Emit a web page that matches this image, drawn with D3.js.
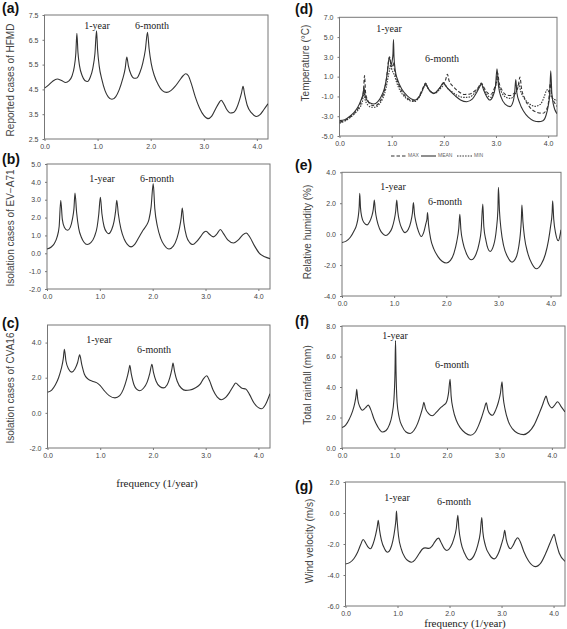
<!DOCTYPE html>
<html><head><meta charset="utf-8">
<script src="https://cdn.jsdelivr.net/npm/d3@7/dist/d3.min.js"></script>
<style>body{margin:0;background:#fff}svg{display:block}</style>
</head><body>
<svg id="c" width="567" height="629"></svg>
<script>
// ---- data: [frequency (1/year), value] ----
const hfmd = [[0,4.55],[0.08,4.68],[0.16,4.84],[0.24,4.92],[0.32,4.86],[0.4,4.78],[0.46,4.84],[0.52,5.05],[0.56,5.4],[0.59,5.95],[0.61,6.76],[0.63,6.0],[0.66,5.45],[0.71,5.05],[0.76,4.86],[0.81,4.82],[0.86,4.98],[0.91,5.35],[0.95,5.95],[0.98,6.86],[1.0,6.1],[1.03,5.45],[1.08,4.9],[1.14,4.45],[1.2,4.2],[1.27,4.1],[1.34,4.2],[1.41,4.5],[1.47,4.9],[1.52,5.35],[1.55,5.8],[1.58,5.45],[1.63,5.1],[1.69,4.95],[1.74,4.96],[1.8,5.2],[1.85,5.55],[1.9,6.1],[1.94,6.8],[1.97,6.15],[2.01,5.55],[2.07,5.05],[2.14,4.7],[2.22,4.45],[2.3,4.38],[2.38,4.45],[2.46,4.62],[2.54,4.85],[2.61,5.05],[2.66,5.13],[2.71,5.05],[2.77,4.7],[2.84,4.2],[2.92,3.75],[3.0,3.45],[3.08,3.32],[3.15,3.42],[3.22,3.7],[3.29,3.97],[3.33,4.06],[3.37,3.95],[3.43,3.7],[3.5,3.55],[3.56,3.57],[3.62,3.75],[3.67,4.05],[3.71,4.35],[3.74,4.62],[3.77,4.3],[3.82,3.85],[3.9,3.55],[3.99,3.41],[4.06,3.48],[4.13,3.68],[4.21,3.92]];
const eva71 = [[0,0.24],[0.08,0.35],[0.14,0.55],[0.19,0.9],[0.23,1.5],[0.26,2.97],[0.29,1.9],[0.33,1.45],[0.39,1.29],[0.44,1.45],[0.48,1.9],[0.51,2.5],[0.53,3.38],[0.56,2.3],[0.6,1.4],[0.65,0.9],[0.7,0.62],[0.76,0.49],[0.83,0.6],[0.9,0.95],[0.95,1.5],[0.98,2.2],[1.01,3.14],[1.04,2.2],[1.08,1.5],[1.13,1.18],[1.17,1.1],[1.22,1.3],[1.27,1.8],[1.3,2.4],[1.32,2.97],[1.35,2.2],[1.4,1.35],[1.46,0.8],[1.52,0.5],[1.59,0.36],[1.66,0.5],[1.74,0.9],[1.82,1.3],[1.88,1.55],[1.93,1.9],[1.97,2.6],[2.01,3.9],[2.04,2.5],[2.09,1.5],[2.15,0.85],[2.22,0.45],[2.31,0.24],[2.39,0.4],[2.46,0.85],[2.51,1.45],[2.54,2.0],[2.56,2.54],[2.59,1.7],[2.64,0.95],[2.7,0.6],[2.76,0.49],[2.83,0.65],[2.91,0.95],[2.97,1.18],[3.01,1.23],[3.08,1.05],[3.15,0.92],[3.22,1.1],[3.28,1.33],[3.34,1.1],[3.42,0.75],[3.53,0.58],[3.62,0.75],[3.7,1.02],[3.77,1.14],[3.84,0.9],[3.93,0.4],[4.02,0.0],[4.12,-0.2],[4.22,-0.3]];
const cva16 = [[0,1.17],[0.08,1.3],[0.15,1.6],[0.21,2.0],[0.26,2.5],[0.3,3.1],[0.32,3.62],[0.35,2.95],[0.4,2.5],[0.46,2.32],[0.52,2.5],[0.57,2.85],[0.61,3.3],[0.65,2.75],[0.7,2.2],[0.77,1.92],[0.85,1.8],[0.93,1.72],[1.0,1.55],[1.08,1.25],[1.17,0.98],[1.28,0.85],[1.37,0.98],[1.44,1.35],[1.5,1.9],[1.54,2.4],[1.56,2.7],[1.59,2.2],[1.64,1.6],[1.69,1.35],[1.75,1.26],[1.82,1.4],[1.89,1.75],[1.94,2.25],[1.98,2.77],[2.01,2.3],[2.06,1.8],[2.13,1.5],[2.2,1.42],[2.27,1.6],[2.32,2.0],[2.36,2.5],[2.38,2.83],[2.41,2.35],[2.46,1.8],[2.54,1.4],[2.62,1.28],[2.7,1.3],[2.8,1.42],[2.9,1.65],[2.96,1.95],[3.02,2.11],[3.07,1.85],[3.14,1.3],[3.22,0.9],[3.3,0.75],[3.38,0.88],[3.45,1.15],[3.52,1.5],[3.57,1.7],[3.63,1.55],[3.69,1.4],[3.76,1.36],[3.83,1.05],[3.92,0.55],[4.0,0.3],[4.06,0.23],[4.13,0.45],[4.22,1.09]];
const tempMax = [[0,-3.6],[0.1,-3.45],[0.2,-3.1],[0.3,-2.6],[0.38,-2.0],[0.43,-1.2],[0.46,-0.4],[0.48,1.1],[0.5,-0.6],[0.55,-1.5],[0.62,-1.9],[0.68,-1.95],[0.75,-1.7],[0.82,-1.05],[0.87,-0.2],[0.91,1.2],[0.94,2.6],[0.96,3.0],[0.98,2.4],[1.0,2.0],[1.03,2.4],[1.05,1.8],[1.09,0.9],[1.15,0.0],[1.25,-0.9],[1.35,-1.35],[1.42,-1.45],[1.5,-1.2],[1.57,-0.5],[1.62,0.1],[1.65,0.35],[1.69,-0.1],[1.76,-0.55],[1.83,-0.65],[1.9,-0.3],[1.97,0.2],[2.03,0.6],[2.07,1.25],[2.1,0.6],[2.18,0.0],[2.28,-0.5],[2.4,-0.8],[2.5,-0.75],[2.58,-0.5],[2.66,-0.1],[2.72,0.35],[2.77,-0.1],[2.83,-0.6],[2.9,-0.8],[2.96,-0.3],[3.01,0.6],[3.03,1.4],[3.06,0.4],[3.12,-0.4],[3.2,-0.85],[3.28,-0.9],[3.36,-0.6],[3.42,-0.1],[3.46,0.95],[3.49,-0.2],[3.55,-1.2],[3.65,-2.1],[3.78,-2.6],[3.9,-2.7],[3.97,-2.3],[4.01,-1.5],[4.04,0.3],[4.07,-0.9],[4.12,-1.6],[4.17,-2.0]];
const tempMean = [[0,-3.45],[0.1,-3.35],[0.2,-3.0],[0.28,-2.6],[0.35,-2.1],[0.41,-1.4],[0.45,-0.8],[0.47,-0.1],[0.49,-0.9],[0.53,-1.4],[0.6,-1.7],[0.66,-1.76],[0.73,-1.55],[0.8,-1.0],[0.86,-0.2],[0.9,0.8],[0.93,2.0],[0.95,2.9],[0.97,2.7],[0.99,2.2],[1.01,2.6],[1.025,3.3],[1.035,4.75],[1.045,3.0],[1.07,1.6],[1.12,0.6],[1.2,-0.3],[1.3,-0.95],[1.38,-1.25],[1.45,-1.36],[1.52,-1.1],[1.58,-0.5],[1.62,0.0],[1.65,0.3],[1.68,0.0],[1.74,-0.5],[1.81,-0.72],[1.88,-0.4],[1.94,0.0],[1.99,0.4],[2.04,0.05],[2.12,-0.45],[2.22,-0.95],[2.32,-1.35],[2.44,-1.53],[2.55,-1.25],[2.63,-0.6],[2.69,0.0],[2.72,0.3],[2.76,-0.3],[2.82,-1.0],[2.88,-1.36],[2.94,-1.0],[2.99,0.0],[3.02,1.8],[3.05,0.0],[3.1,-1.1],[3.18,-1.8],[3.27,-2.03],[3.33,-1.5],[3.36,-0.5],[3.38,0.7],[3.4,-0.6],[3.45,-1.6],[3.53,-2.5],[3.62,-3.1],[3.72,-3.45],[3.82,-3.55],[3.9,-3.45],[3.96,-2.9],[4.0,-2.0],[4.03,-0.8],[4.05,1.6],[4.07,-0.6],[4.1,-1.8],[4.17,-2.75]];
const tempMin = [[0,-3.7],[0.1,-3.5],[0.2,-3.15],[0.3,-2.7],[0.38,-2.2],[0.44,-1.5],[0.47,-0.6],[0.49,-1.3],[0.55,-1.9],[0.62,-2.1],[0.68,-2.1],[0.75,-1.85],[0.83,-1.2],[0.89,-0.2],[0.93,0.9],[0.96,1.7],[0.98,2.2],[1.0,1.8],[1.03,1.4],[1.05,1.2],[1.09,0.5],[1.16,-0.4],[1.26,-1.1],[1.36,-1.45],[1.44,-1.5],[1.52,-1.15],[1.58,-0.55],[1.63,0.05],[1.66,0.2],[1.7,-0.2],[1.77,-0.6],[1.84,-0.65],[1.92,-0.3],[1.99,0.1],[2.02,0.2],[2.06,-0.1],[2.15,-0.5],[2.26,-0.9],[2.38,-1.1],[2.5,-1.05],[2.6,-0.6],[2.67,-0.1],[2.72,0.25],[2.77,-0.3],[2.84,-0.9],[2.9,-1.1],[2.96,-0.5],[3.01,0.4],[3.03,1.0],[3.06,0.1],[3.12,-0.7],[3.2,-1.1],[3.28,-1.2],[3.35,-0.9],[3.4,-0.4],[3.44,0.3],[3.47,-0.4],[3.53,-1.1],[3.63,-1.7],[3.75,-2.0],[3.85,-1.8],[3.92,-1.1],[3.96,-0.5],[3.99,-0.3],[4.02,-0.6],[4.07,-1.1],[4.12,-1.3],[4.17,-1.4]];
const humidity = [[0,-0.54],[0.08,-0.45],[0.16,-0.2],[0.23,0.2],[0.28,0.6],[0.31,1.1],[0.33,1.8],[0.34,2.64],[0.355,1.7],[0.38,1.1],[0.42,0.75],[0.48,0.6],[0.53,0.8],[0.57,1.15],[0.6,1.6],[0.62,2.21],[0.64,1.5],[0.67,0.9],[0.72,0.35],[0.78,0.03],[0.84,-0.09],[0.9,0.05],[0.96,0.4],[1.0,0.9],[1.03,1.5],[1.05,2.21],[1.07,1.45],[1.1,0.85],[1.15,0.35],[1.21,0.1],[1.27,0.3],[1.32,0.8],[1.35,1.35],[1.37,2.04],[1.39,1.3],[1.42,0.75],[1.47,0.15],[1.52,-0.15],[1.57,0.15],[1.61,0.7],[1.63,1.0],[1.64,1.39],[1.66,0.6],[1.7,-0.3],[1.76,-0.95],[1.84,-1.45],[1.92,-1.75],[2.0,-1.87],[2.08,-1.7],[2.15,-1.2],[2.2,-0.5],[2.24,0.4],[2.26,1.29],[2.28,0.3],[2.32,-0.55],[2.38,-1.2],[2.48,-1.66],[2.57,-1.3],[2.63,-0.6],[2.67,0.3],[2.7,1.94],[2.72,0.5],[2.76,-0.4],[2.84,-1.12],[2.91,-0.7],[2.96,0.3],[2.99,1.6],[3.0,3.03],[3.02,1.5],[3.05,0.3],[3.1,-0.75],[3.18,-1.5],[3.26,-1.81],[3.34,-1.5],[3.39,-0.8],[3.42,0.0],[3.44,1.0],[3.45,1.89],[3.47,0.8],[3.5,-0.2],[3.56,-1.2],[3.64,-1.9],[3.73,-2.24],[3.82,-1.95],[3.9,-1.3],[3.96,-0.4],[4.0,0.5],[4.03,1.4],[4.04,2.15],[4.06,1.0],[4.1,0.0],[4.15,-0.43],[4.18,-0.1],[4.2,0.28]];
const rainfall = [[0,1.34],[0.07,1.5],[0.14,1.9],[0.2,2.4],[0.24,2.9],[0.27,3.5],[0.28,3.85],[0.3,3.2],[0.34,2.7],[0.39,2.48],[0.45,2.65],[0.5,2.81],[0.55,2.5],[0.61,1.9],[0.68,1.4],[0.77,1.05],[0.84,1.15],[0.9,1.5],[0.95,2.1],[0.99,3.2],[1.01,5.0],[1.02,7.04],[1.03,5.0],[1.05,3.0],[1.09,2.0],[1.15,1.4],[1.22,1.05],[1.3,0.95],[1.37,1.15],[1.44,1.6],[1.5,2.2],[1.54,2.7],[1.56,2.99],[1.59,2.6],[1.65,2.25],[1.72,2.11],[1.8,2.35],[1.88,2.65],[1.94,2.81],[1.99,3.0],[2.03,3.6],[2.06,4.5],[2.08,3.4],[2.12,2.5],[2.18,1.8],[2.26,1.3],[2.35,0.98],[2.45,0.84],[2.53,1.0],[2.6,1.45],[2.66,2.0],[2.71,2.55],[2.75,2.96],[2.78,2.5],[2.83,2.2],[2.87,2.15],[2.93,2.5],[2.98,3.0],[3.02,3.6],[3.05,4.34],[3.07,3.4],[3.11,2.5],[3.17,1.75],[3.25,1.25],[3.35,0.97],[3.46,0.88],[3.56,1.05],[3.66,1.5],[3.75,2.2],[3.82,2.8],[3.86,3.2],[3.89,3.4],[3.92,3.05],[3.96,2.75],[4.0,2.63],[4.05,2.8],[4.11,3.03],[4.17,2.75],[4.25,2.37]];
const wind = [[0,-3.29],[0.08,-3.2],[0.16,-2.95],[0.23,-2.55],[0.29,-2.05],[0.34,-1.71],[0.39,-1.95],[0.44,-2.22],[0.48,-2.31],[0.53,-2.0],[0.58,-1.4],[0.61,-0.9],[0.63,-0.47],[0.655,-1.1],[0.69,-1.75],[0.75,-2.3],[0.81,-2.53],[0.86,-2.35],[0.91,-1.8],[0.95,-1.0],[0.97,-0.4],[0.98,0.13],[0.995,-0.6],[1.02,-1.5],[1.07,-2.3],[1.14,-2.85],[1.21,-3.1],[1.27,-3.18],[1.34,-3.0],[1.42,-2.6],[1.48,-2.32],[1.53,-2.25],[1.6,-2.28],[1.66,-2.15],[1.72,-1.85],[1.77,-1.65],[1.79,-1.62],[1.83,-1.85],[1.9,-2.3],[1.95,-2.42],[2.02,-2.2],[2.08,-1.7],[2.13,-1.0],[2.16,-0.15],[2.18,-1.0],[2.22,-1.9],[2.29,-2.6],[2.38,-3.03],[2.47,-2.75],[2.54,-2.1],[2.59,-1.3],[2.62,-0.3],[2.64,-1.2],[2.69,-2.1],[2.77,-2.7],[2.86,-2.96],[2.94,-2.6],[3.0,-2.0],[3.04,-1.5],[3.06,-1.12],[3.09,-1.7],[3.13,-2.15],[3.17,-2.31],[3.22,-2.1],[3.27,-1.75],[3.31,-1.6],[3.36,-1.85],[3.43,-2.5],[3.52,-3.1],[3.65,-3.46],[3.76,-3.2],[3.85,-2.6],[3.93,-1.95],[3.98,-1.55],[4.01,-1.38],[4.05,-1.9],[4.11,-2.6],[4.22,-3.12]];

const xTicks = [0, 1, 2, 3, 4];
const ticksA = [2.5, 3.5, 4.5, 5.5, 6.5, 7.5];
const ticksB = [-2, -1, 0, 1, 2, 3, 4, 5];
const ticksC = [-2, 0, 2, 4];
const ticksD = [-5, -3, -1, 1, 3, 5, 7];
const ticksE = [-4, -2, 0, 2, 4];
const ticksF = [0, 2, 4, 6, 8];
const ticksG = [-6, -4, -2, 0, 2];
const legendLabels = ["MAX", "MEAN", "MIN"];

// ---- layout ----
const svg = d3.select("#c");
const SANS = "'Liberation Sans', Arial, sans-serif";
const SERIF = "'Liberation Serif', 'Times New Roman', serif";
const panels = [
  {id:"a", box:[44.5,15,268,139], xmax:4.21, y:[2.5,7.5], ticks:ticksA, fmt:".1f", series:[{d:hfmd}],
   title:"Reported cases of HFMD", tx:11, ty:80, lab:[2,13],
   ann:[["1-year",97,27],["6-month",152,27]]},
  {id:"b", box:[47,164,270,289], xmax:4.22, y:[-2,5], ticks:ticksB, fmt:".1f", series:[{d:eva71}],
   title:"Isolation cases of EV\u2212A71", tx:11, ty:228, lab:[2,164],
   ann:[["1-year",102,180],["6-month",157,180]]},
  {id:"c", box:[47.5,325,270,448], xmax:4.22, y:[-2,5], ticks:ticksC, fmt:".1f", series:[{d:cva16}],
   title:"Isolation cases of CVA16", tx:11, ty:388, lab:[2,328],
   ann:[["1-year",99,341],["6-month",154,351]], xlabel:[157,484]},
  {id:"d", box:[339.5,17.3,557,136], xmax:4.17, y:[-5,7], ticks:ticksD, fmt:".1f",
   series:[{d:tempMax, dash:"3.5,2"},{d:tempMean},{d:tempMin, dash:"1.5,1.2"}],
   title:"Temperature (\u00b0C)", tx:306, ty:63, lab:[295,14],
   ann:[["1-year",389,30],["6-month",442,60]]},
  {id:"e", box:[342,172.3,561,296], xmax:4.2, y:[-4,4], ticks:ticksE, fmt:".1f", series:[{d:humidity}],
   title:"Relative humidity (%)", tx:308, ty:232, lab:[295,170],
   ann:[["1-year",393,188],["6-month",445,203]]},
  {id:"f", box:[342,326,565,448], xmax:4.25, y:[0,8], ticks:ticksF, fmt:".1f", series:[{d:rainfall}],
   title:"Total rainfall (mm)", tx:308, ty:385, lab:[295,326],
   ann:[["1-year",395,337],["6-month",452,366]]},
  {id:"g", box:[345.5,482,565,606], xmax:4.22, y:[-6,2], ticks:ticksG, fmt:".1f", series:[{d:wind}],
   title:"Wind velocity (m/s)", tx:310, ty:541, lab:[295,491],
   ann:[["1-year",397,499],["6-month",454,503]], xlabel:[465,624]}
];

panels.forEach(p => {
  const [l,t,r,b] = p.box;
  const x = d3.scaleLinear().domain([0,p.xmax]).range([l,r]);
  const y = d3.scaleLinear().domain(p.y).range([b,t]);
  const g = svg.append("g");
  g.append("rect").attr("x",l).attr("y",t).attr("width",r-l).attr("height",b-t)
    .attr("fill","none").attr("stroke","#777").attr("stroke-width",1);
  const ya = d3.axisLeft(y).tickValues(p.ticks).tickFormat(d3.format(p.fmt)).tickSize(2).tickPadding(4);
  const xa = d3.axisBottom(x).tickValues(xTicks).tickFormat(d3.format(".1f")).tickSize(2).tickPadding(3);
  const gy = g.append("g").attr("transform",`translate(${l},0)`).call(ya);
  const gx = g.append("g").attr("transform",`translate(0,${b})`).call(xa);
  [gy,gx].forEach(a => {
    a.select(".domain").remove();
    a.selectAll("line").attr("stroke","#777");
    a.selectAll("text").attr("font-family",SANS).attr("font-size",7).attr("fill","#444")
      .text(function(){ return this.textContent.replace("\u2212","-"); });
  });
  const cid = "clip"+p.id;
  svg.append("clipPath").attr("id",cid).append("rect")
    .attr("x",l).attr("y",t).attr("width",r-l).attr("height",b-t);
  const line = d3.line().x(d=>x(d[0])).y(d=>y(d[1])).curve(d3.curveMonotoneX);
  p.series.forEach(s => {
    g.append("path").attr("d",line(s.d)).attr("clip-path",`url(#${cid})`)
      .attr("fill","none").attr("stroke","#333").attr("stroke-width",1.1)
      .attr("stroke-dasharray",s.dash||null);
  });
  g.append("text").attr("transform",`translate(${p.tx},${p.ty}) rotate(-90)`)
    .attr("text-anchor","middle").attr("dominant-baseline","middle")
    .attr("font-family",SANS).attr("font-size",10).attr("fill","#444").text(p.title);
  g.append("text").attr("x",p.lab[0]).attr("y",p.lab[1])
    .attr("font-family",SANS).attr("font-size",14).attr("font-weight","bold").attr("fill","#111")
    .text(`(${p.id})`);
  p.ann.forEach(a => g.append("text").attr("x",a[1]).attr("y",a[2]).attr("text-anchor","middle")
    .attr("dominant-baseline","middle").attr("font-family",SERIF).attr("font-size",10).attr("fill","#222").text(a[0]));
  if (p.xlabel) g.append("text").attr("x",p.xlabel[0]).attr("y",p.xlabel[1]).attr("text-anchor","middle")
    .attr("dominant-baseline","middle").attr("font-family",SERIF).attr("font-size",11).attr("fill","#222")
    .text("frequency (1/year)");
});

// legend for panel (d)
const leg = svg.append("g");
const legDash = ["3.5,2", null, "1.5,1.2"];
const legX = [391, 421, 457];
legendLabels.forEach((name,i) => {
  leg.append("line").attr("x1",legX[i]).attr("x2",legX[i]+15).attr("y1",156).attr("y2",156)
    .attr("stroke","#333").attr("stroke-width",1.1).attr("stroke-dasharray",legDash[i]);
  leg.append("text").attr("x",legX[i]+17).attr("y",156).attr("dominant-baseline","middle")
    .attr("font-family",SANS).attr("font-size",5).attr("fill","#666").text(name);
});
</script>
</body></html>
